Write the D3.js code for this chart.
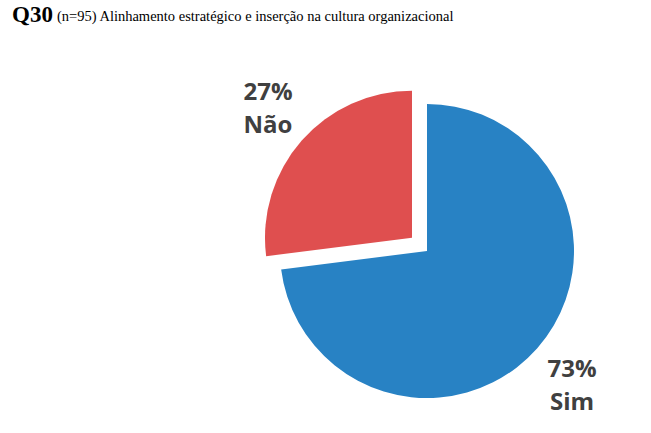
<!DOCTYPE html>
<html><head><meta charset="utf-8">
<script src="https://cdn.jsdelivr.net/npm/d3@7"></script>
<style>body{margin:0;background:#fff;}</style>
</head><body>
<svg id="c" width="651" height="433"></svg>
<script>
const categories = ["Sim", "Não"];
const values = [73, 27];
const colors = ["#2882c4", "#df4f4f"];
const exploded = [false, true];

const svg = d3.select("#c");
svg.append("text").attr("x", 12).attr("y", 22)
  .attr("font-family", "Liberation Serif, Times New Roman, serif")
  .attr("font-size", 23).attr("font-weight", "bold").attr("fill", "#000").text("Q30");
svg.append("text").attr("x", 57).attr("y", 21)
  .attr("font-family", "Liberation Serif, Times New Roman, serif")
  .attr("font-size", 14.5).attr("fill", "#000")
  .text("(n=95) Alinhamento estratégico e inserção na cultura organizacional");

const cx = 427, cy = 251, r = 147, explode = 20;
const pie = d3.pie().sort(null).value(d => d)(values);
const arc = d3.arc().innerRadius(0).outerRadius(r);
const g = svg.append("g").attr("transform", `translate(${cx},${cy})`);
pie.forEach((p, i) => {
  const mid = (p.startAngle + p.endAngle) / 2;
  const off = exploded[i] ? explode : 0;
  const dx = Math.sin(mid) * off, dy = -Math.cos(mid) * off;
  g.append("path").attr("d", arc(p)).attr("fill", colors[i])
    .attr("transform", `translate(${dx},${dy})`);
});

// labels
const labelPos = [[572, 377], [268, 100]];
pie.forEach((p, i) => {
  const t = svg.append("text").attr("x", labelPos[i][0]).attr("y", labelPos[i][1])
    .attr("text-anchor", "middle").attr("font-family", "Open Sans, sans-serif")
    .attr("font-weight", "bold").attr("font-size", 24).attr("fill", "#404040");
  t.append("tspan").attr("x", labelPos[i][0]).text(values[i] + "%");
  t.append("tspan").attr("x", labelPos[i][0]).attr("dy", 33).text(categories[i]);
});
</script>
</body></html>
